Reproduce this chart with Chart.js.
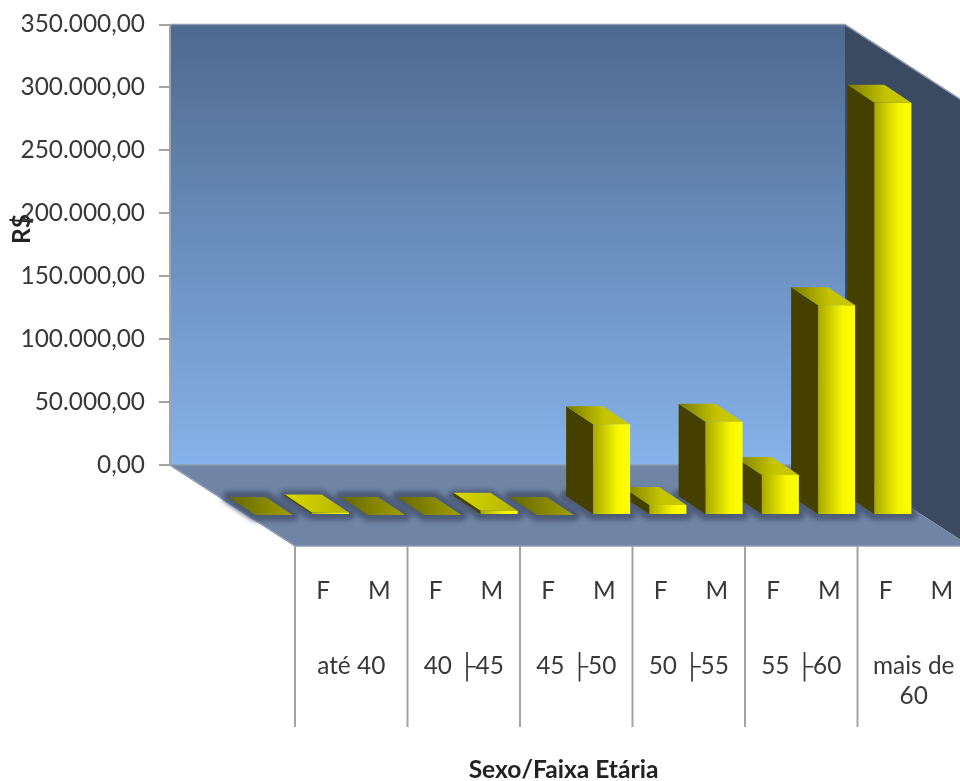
<!DOCTYPE html>
<html lang="pt-BR">
<head>
<meta charset="utf-8">
<title>Sexo/Faixa Etária</title>
<script src="https://cdn.jsdelivr.net/npm/chart.js@4/dist/chart.umd.min.js"></script>
<style>
  html, body { margin: 0; padding: 0; background: #fff; }
  canvas { display: block; }
</style>
</head>
<body>
<canvas id="chart" width="960" height="781"></canvas>
<script>
const sexLabels = ['F', 'M', 'F', 'M', 'F', 'M', 'F', 'M', 'F', 'M', 'F', 'M'];
const ageGroups = ['até 40', '40 ├45', '45 ├50', '50 ├55', '55 ├60', ['mais de', '60']];
const amounts = [0, 2000, 0, 0, 3400, 0, 72200, 7900, 74000, 31700, 166700, 327500];
const amountTicks = ['0,00', '50.000,00', '100.000,00', '150.000,00', '200.000,00', '250.000,00', '300.000,00', '350.000,00'];

// oblique projection: how far the floor and the bars sit in front of the back wall
const floorDx = 125, floorDy = 81;
const barDx = 76, barDy = 50;
const barDepthX = 27, barDepthY = 18;

const labelFont = { family: 'Lato', size: 24.4 };
const lineGray = '#a3a3a3';
const textColor = '#383838';

function poly(ctx, pts) {
  ctx.beginPath();
  pts.forEach((p, i) => i ? ctx.lineTo(p[0], p[1]) : ctx.moveTo(p[0], p[1]));
  ctx.closePath();
}

// back wall, side wall, floor and the cell lines of the category table
const roomPlugin = {
  id: 'room',
  beforeDraw(chart) {
    const { ctx, chartArea: a, scales } = chart;
    ctx.save();

    const wall = ctx.createLinearGradient(0, a.top, 0, a.bottom);
    wall.addColorStop(0, '#4e698e');
    wall.addColorStop(1, '#86b3eb');
    ctx.fillStyle = wall;
    ctx.fillRect(a.left, a.top, a.right - a.left, a.bottom - a.top);

    ctx.fillStyle = '#3a4a60';
    poly(ctx, [[a.right, a.top], [a.right + floorDx, a.top + floorDy], [a.right + floorDx, a.bottom + floorDy], [a.right, a.bottom]]);
    ctx.fill();

    ctx.fillStyle = '#7085a5';
    poly(ctx, [[a.left, a.bottom], [a.right, a.bottom], [a.right + floorDx, a.bottom + floorDy], [a.left + floorDx, a.bottom + floorDy]]);
    ctx.fill();

    ctx.strokeStyle = '#8d9bb2';
    ctx.lineWidth = 1.5;
    ctx.beginPath();
    ctx.moveTo(a.left, a.top);
    ctx.lineTo(a.right, a.top);
    ctx.lineTo(a.right + floorDx, a.top + floorDy);
    ctx.moveTo(a.left, a.bottom);
    ctx.lineTo(a.left + floorDx, a.bottom + floorDy);
    ctx.lineTo(a.right + floorDx, a.bottom + floorDy);
    ctx.moveTo(a.left, a.bottom);
    ctx.lineTo(a.right, a.bottom);
    ctx.stroke();

    // vertical separators under the front edge of the floor
    const groups = scales.x2;
    const cell = (a.right - a.left) / ageGroups.length;
    ctx.strokeStyle = lineGray;
    ctx.lineWidth = 2;
    ctx.beginPath();
    for (let i = 0; i <= ageGroups.length; i++) {
      const x = groups.getPixelForValue(0) - cell / 2 + i * cell + floorDx;
      ctx.moveTo(x, a.bottom + floorDy);
      ctx.lineTo(x, 727);
    }
    ctx.stroke();

    // axis titles: x is centred under the table, R$ sits above the middle of the wall
    ctx.fillStyle = '#222222';
    ctx.font = 'bold 24.6px Lato';
    ctx.textAlign = 'center';
    ctx.textBaseline = 'middle';
    ctx.fillText('Sexo/Faixa Etária', (a.left + a.right) / 2 + 56, 770);
    ctx.translate(22.5, 229);
    ctx.rotate(-Math.PI / 2);
    ctx.fillText('R$', 0, 0);
    ctx.restore();
  }
};

// side and top faces are painted right to left, then the library draws the fronts on top
const boxPlugin = {
  id: 'box',
  beforeDatasetsDraw(chart) {
    const { ctx } = chart;
    const bars = chart.getDatasetMeta(0).data;
    ctx.save();
    ctx.translate(barDx, barDy);

    ctx.save();
    ctx.filter = 'blur(2.5px)';
    ctx.fillStyle = '#4b5b78';
    ctx.strokeStyle = '#4b5b78';
    ctx.lineWidth = 12;
    ctx.lineJoin = 'round';
    bars.forEach(bar => {
      const l = bar.x - bar.width / 2, r = bar.x + bar.width / 2;
      poly(ctx, [[l, bar.base], [r, bar.base], [r - barDepthX, bar.base - barDepthY], [l - barDepthX, bar.base - barDepthY]]);
      ctx.fill();
      ctx.stroke();
    });
    ctx.restore();

    for (let i = bars.length - 1; i >= 0; i--) {
      const bar = bars[i];
      const l = bar.x - bar.width / 2, r = bar.x + bar.width / 2;
      const top = bar.y, base = bar.base;

      ctx.fillStyle = '#454000';
      poly(ctx, [[l, top], [l, base], [l - barDepthX, base - barDepthY], [l - barDepthX, top - barDepthY]]);
      ctx.fill();

      const shade = ctx.createLinearGradient(l - barDepthX, 0, r, 0);
      if (amounts[i] === 0) {
        shade.addColorStop(0, '#666600');
        shade.addColorStop(1, '#a0a000');
      } else if (amounts[i] < 5000) {
        shade.addColorStop(0, '#d8d800');
        shade.addColorStop(1, '#b4b400');
      } else {
        shade.addColorStop(0, '#7a7a00');
        shade.addColorStop(0.6, '#c4c400');
        shade.addColorStop(1, '#c8c800');
      }
      ctx.fillStyle = shade;
      poly(ctx, [[l, top], [r, top], [r - barDepthX, top - barDepthY], [l - barDepthX, top - barDepthY]]);
      ctx.fill();
    }
  },
  afterDatasetsDraw(chart) {
    chart.ctx.restore();
  }
};

const ctx = document.getElementById('chart').getContext('2d');

new Chart(ctx, {
  type: 'bar',
  data: {
    labels: sexLabels,
    datasets: [{
      data: amounts,
      clip: false,
      borderWidth: 0,
      barPercentage: 0.658,
      categoryPercentage: 1,
      backgroundColor(c) {
        const chart = c.chart;
        if (!chart.chartArea) return '#ffff00';
        const x = chart.scales.x.getPixelForValue(c.dataIndex);
        const half = (chart.chartArea.right - chart.chartArea.left) / sexLabels.length * 0.329;
        const g = chart.ctx.createLinearGradient(x - half, 0, x + half, 0);
        g.addColorStop(0, '#a8a800');
        g.addColorStop(0.65, '#f6f600');
        g.addColorStop(1, '#ffff00');
        return g;
      }
    }]
  },
  plugins: [roomPlugin, boxPlugin],
  options: {
    responsive: false,
    animation: false,
    layout: { padding: { top: 24.5, right: 115, left: 0, bottom: 0 } },
    plugins: { legend: { display: false }, tooltip: { enabled: false } },
    scales: {
      x: {
        type: 'category',
        offset: true,
        position: 'bottom',
        afterFit(s) { s.height = 150; },
        grid: { display: false },
        border: { display: false },
        ticks: { font: labelFont, color: textColor, padding: 104, labelOffset: floorDx, autoSkip: false, maxRotation: 0 }
      },
      x2: {
        type: 'category',
        labels: ageGroups,
        offset: true,
        position: 'bottom',
        afterFit(s) { s.height = 166; },
        grid: { display: false },
        border: { display: false },
        ticks: { font: labelFont, color: textColor, padding: 29, labelOffset: floorDx, autoSkip: false, maxRotation: 0 }
      },
      y: {
        min: 0,
        max: 350000,
        afterFit(s) {
          s.width = 170;
          s.paddingTop = 0;
          s.paddingBottom = 0;
        },
        grid: { drawOnChartArea: false, color: lineGray, tickLength: 11, lineWidth: 2 },
        border: { color: lineGray, width: 2 },
        ticks: {
          stepSize: 50000,
          font: labelFont,
          color: textColor,
          padding: 14,
          callback: (v, i) => amountTicks[i]
        }
      }
    }
  }
});
</script>
</body>
</html>
